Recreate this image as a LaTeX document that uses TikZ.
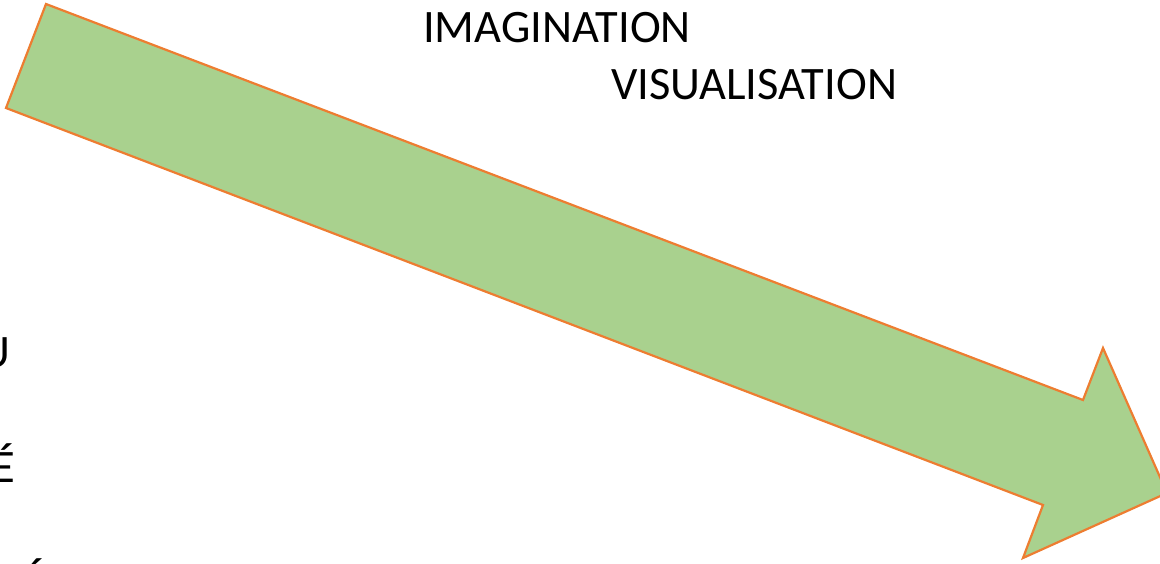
\documentclass[tikz,border=0pt]{standalone}
\usepackage{fontspec}
\setmainfont{Carlito}
\usepackage{tikz}

\definecolor{arrowgreen}{HTML}{A9D18E}
\definecolor{arroworange}{HTML}{ED7D31}

\begin{document}
\begin{tikzpicture}[x=1pt,y=-1pt,
  word/.style={inner sep=0pt,font=\fontsize{46.5}{54}\selectfont},
  bigarrow/.style={fill=arrowgreen,draw=arroworange,line width=2.2pt,line join=miter}]
\useasboundingbox (0,0) rectangle (1160,563);

%%% the arrow
\draw[bigarrow] (46,4) -- (1083,400) -- (1103,348) -- (1167,493)
  -- (1023,558) -- (1043,505) -- (6,108) -- cycle;

%%% words
\node[word,anchor=base west] (imagination) at (423,42) {IMAGINATION};
\node[word,anchor=base west] (visualisation) at (611,99) {VISUALISATION};

%%% words cut by the left edge
\node[word,anchor=base east] (endu) at (11,367) {U};
\node[word,anchor=base east] (endea) at (15,482) {É};
\node[word,anchor=base east] (endeb) at (45,597) {É};
\end{tikzpicture}
\end{document}
